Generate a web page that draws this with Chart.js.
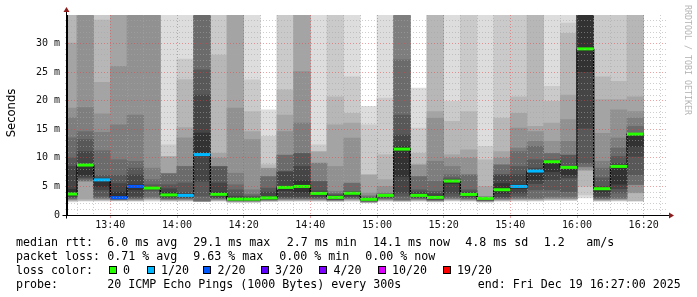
<!DOCTYPE html>
<html>
<head>
<meta charset="utf-8">
<script src="https://cdn.jsdelivr.net/npm/chart.js@4.4.1/dist/chart.umd.min.js"></script>
<style>
  html, body { margin: 0; padding: 0; background: #fff; }
  #wrap { position: relative; width: 697px; height: 297px; overflow: hidden; background: #fff; }
  #chart { position: absolute; left: 0; top: 0; }
  .t { position: absolute; font-family: 'DejaVu Sans Mono', monospace; font-size: 11.63px; line-height: 14px; color: #000; white-space: pre; }
  .box { position: absolute; width: 8px; height: 8px; box-sizing: border-box; border: 1px solid #000; }
  .rot { position: absolute; text-align: center; white-space: pre; }
</style>
</head>
<body>
<div id="wrap">
  <canvas id="chart" width="697" height="297"></canvas>
  <div class="rot" style="left:-29.5px;top:106px;width:80px;height:14px;line-height:14px;font-family:'DejaVu Sans',sans-serif;font-size:11.6px;color:#000;transform:rotate(-90deg);">Seconds</div>
  <div class="rot" style="left:628px;top:55px;width:120px;height:10px;line-height:10px;font-family:'DejaVu Sans Mono',monospace;font-size:8.3px;color:#b4b4b4;transform:rotate(90deg);">RRDTOOL / TOBI OETIKER</div>
  <div id="legend"></div>
</div>
<script>
/* SmokePing style latency chart, 3 h window */

// ---- data ----
// start of each 5 minute slot
const slots = ['13:25', '13:30', '13:35', '13:40', '13:45', '13:50', '13:55', '14:00', '14:05', '14:10',
  '14:15', '14:20', '14:25', '14:30', '14:35', '14:40', '14:45', '14:50', '14:55', '15:00',
  '15:05', '15:10', '15:15', '15:20', '15:25', '15:30', '15:35', '15:40', '15:45', '15:50',
  '15:55', '16:00', '16:05', '16:10', '16:15'];

// median rtt per slot (ms)
const median = [3.67, 8.74, 6.15, 3.03, 5.0, 4.72, 3.52, 3.43, 10.58, 3.62,
  2.78, 2.78, 3.0, 4.83, 5.0, 3.78, 3.08, 3.8, 2.74, 3.43,
  11.53, 3.43, 3.08, 5.94, 3.6, 2.9, 4.42, 5.0, 7.69, 9.32,
  8.33, 29.07, 4.6, 8.5, 14.16];

// lost pings (of 20) per slot
const lossCount = [0, 0, 1, 2, 2, 0, 0, 1, 1, 0,
  0, 0, 0, 0, 0, 0, 0, 0, 0, 0,
  0, 0, 0, 0, 0, 0, 0, 1, 1, 0,
  0, 0, 0, 0, 0];

// 20 sorted pings per slot (ms), values past the top are off scale
const pings = [
  [2.3, 2.4, 2.5, 2.6, 2.7, 2.8, 2.9, 3.0, 3.2, 3.4, 4.5, 8.5, 10.0, 13.5, 17.0, 18.7, 30.1, 38, 42, 45],
  [2.4, 2.5, 2.6, 2.8, 5.9, 5.95, 6.0, 6.4, 6.6, 7.0, 8.8, 11.1, 13.2, 14.6, 18.8, 40, 42, 44, 46, 48],
  [2.4, 2.5, 2.6, 2.7, 2.8, 2.9, 3.0, 3.3, 4.4, 5.0, 6.25, 6.5, 6.93, 11.25, 14.45, 17.7, 23.2, 34.1, 38, 42],
  [2.4, 2.5, 2.55, 2.6, 2.65, 2.7, 2.75, 2.8, 2.9, 3.1, 4.0, 5.5, 6.93, 9.67, 15.8, 26.0, 38, 40, 42, 44],
  [2.4, 2.45, 2.5, 2.6, 2.7, 2.8, 2.9, 3.0, 3.3, 4.4, 5.3, 7.0, 8.2, 9.4, 17.5, 40, 42, 44, 46, 48],
  [2.4, 2.55, 2.7, 2.8, 2.9, 3.0, 3.25, 4.2, 4.4, 4.6, 4.8, 5.0, 5.3, 6.2, 8.2, 40, 42, 44, 46, 48],
  [2.4, 2.45, 2.5, 2.6, 2.7, 2.75, 2.85, 2.95, 3.1, 3.3, 3.9, 4.6, 5.3, 7.2, 7.25, 7.3, 10.2, 10.25, 12.3, 40],
  [2.4, 2.45, 2.5, 2.6, 2.7, 2.8, 2.9, 3.0, 3.1, 3.3, 3.6, 3.85, 5.6, 8.5, 8.5, 13.5, 15.3, 23.7, 27.3, 40],
  [2.35, 2.36, 2.38, 2.4, 2.42, 2.45, 2.5, 3.3, 5.9, 10.4, 14.33, 21.0, 25.4, 38, 40, 42, 44, 46, 48, 50],
  [2.4, 2.45, 2.5, 2.6, 2.7, 2.8, 2.9, 3.0, 3.1, 3.4, 4.0, 5.6, 8.45, 8.5, 8.5, 9.96, 10.8, 28.0, 38, 40],
  [2.2, 2.25, 2.3, 2.35, 2.4, 2.45, 2.5, 2.55, 2.6, 2.75, 3.0, 3.3, 4.4, 5.3, 7.3, 18.7, 38, 40, 42, 44],
  [2.2, 2.25, 2.3, 2.35, 2.4, 2.45, 2.5, 2.55, 2.6, 2.7, 2.95, 3.1, 3.3, 3.6, 4.43, 13.2, 14.6, 18.1, 23.65, 40],
  [2.35, 2.4, 2.45, 2.5, 2.55, 2.6, 2.65, 2.7, 2.8, 2.9, 3.2, 4.0, 4.7, 6.7, 6.75, 8.15, 8.2, 8.8, 13.75, 18.4],
  [2.4, 2.45, 2.5, 2.6, 2.7, 2.8, 2.9, 3.0, 3.25, 4.3, 5.0, 7.55, 7.6, 10.45, 10.5, 14.6, 17.5, 21.9, 38, 40],
  [2.4, 2.45, 2.5, 2.6, 2.7, 2.8, 2.9, 3.0, 3.25, 4.0, 6.0, 8.5, 10.75, 10.8, 16.1, 25.1, 38, 40, 42, 44],
  [2.4, 2.45, 2.5, 2.6, 2.7, 2.8, 2.9, 3.0, 3.2, 3.5, 3.95, 4.2, 5.85, 5.9, 9.05, 9.1, 11.05, 11.1, 12.3, 40],
  [2.35, 2.4, 2.45, 2.5, 2.55, 2.6, 2.65, 2.7, 2.8, 2.95, 3.2, 3.4, 3.6, 3.8, 4.15, 8.5, 15.8, 20.7, 38, 40],
  [2.4, 2.45, 2.55, 2.65, 2.75, 2.85, 2.95, 3.1, 3.25, 3.5, 3.9, 4.0, 4.15, 5.55, 5.6, 13.45, 16.1, 17.8, 24.2, 40],
  [2.1, 2.15, 2.2, 2.25, 2.3, 2.35, 2.4, 2.45, 2.5, 2.6, 2.8, 2.9, 3.0, 3.2, 3.4, 3.85, 7.0, 7.05, 15.8, 19.0],
  [2.4, 2.45, 2.5, 2.6, 2.7, 2.8, 2.9, 3.0, 3.1, 3.3, 3.5, 3.55, 3.6, 3.7, 3.85, 5.0, 6.2, 10.55, 20.45, 40],
  [2.35, 2.4, 2.45, 2.5, 2.55, 2.6, 2.7, 3.3, 3.85, 6.76, 12.0, 14.0, 17.5, 27.15, 38, 40, 42, 44, 46, 48],
  [2.4, 2.45, 2.5, 2.6, 2.7, 2.8, 2.9, 3.0, 3.1, 3.3, 3.6, 4.0, 4.4, 6.7, 6.76, 8.75, 8.8, 10.8, 15.2, 22.2],
  [2.3, 2.35, 2.4, 2.45, 2.5, 2.55, 2.6, 2.7, 2.8, 2.95, 3.3, 3.7, 4.15, 5.9, 9.4, 16.95, 18.1, 38, 40, 42],
  [2.4, 2.5, 2.6, 2.7, 2.8, 2.9, 3.0, 3.3, 3.85, 5.5, 6.0, 6.2, 6.5, 7.05, 8.5, 9.96, 10.55, 16.4, 19.9, 40],
  [2.4, 2.45, 2.5, 2.6, 2.7, 2.8, 2.9, 3.0, 3.2, 3.4, 3.75, 4.0, 4.4, 7.0, 7.05, 9.96, 11.4, 18.1, 38, 40],
  [2.25, 2.3, 2.35, 2.4, 2.45, 2.5, 2.55, 2.6, 2.65, 2.75, 2.9, 2.95, 3.0, 3.05, 3.15, 3.27, 5.0, 9.67, 12.0, 40],
  [2.4, 2.45, 2.5, 2.6, 2.7, 2.8, 2.9, 3.0, 3.2, 3.8, 5.5, 7.0, 7.05, 8.75, 8.8, 9.96, 11.1, 16.95, 38, 40],
  [2.4, 2.5, 2.6, 2.7, 2.8, 2.9, 3.0, 3.3, 3.85, 4.6, 5.3, 7.05, 8.5, 11.1, 11.7, 15.2, 17.8, 20.7, 38, 40],
  [2.4, 2.5, 2.6, 2.7, 2.8, 2.9, 3.0, 4.4, 5.5, 6.2, 7.8, 8.2, 9.67, 12.0, 12.9, 14.6, 15.5, 38, 40, 42],
  [2.5, 2.6, 2.7, 2.8, 2.9, 3.0, 3.25, 4.4, 6.2, 7.6, 9.35, 9.5, 9.67, 10.75, 10.8, 12.9, 16.1, 19.9, 22.5, 40],
  [2.5, 2.6, 2.7, 2.8, 2.9, 3.0, 3.25, 4.1, 6.5, 7.0, 8.4, 8.5, 10.45, 10.5, 12.9, 16.7, 21.0, 31.8, 33.6, 40],
  [2.97, 3.5, 5.0, 7.85, 7.9, 8.4, 8.5, 9.1, 15.2, 25.1, 38, 40, 42, 44, 46, 48, 50, 52, 54, 56],
  [2.4, 2.45, 2.5, 2.6, 2.7, 2.8, 2.9, 3.0, 3.3, 4.0, 4.7, 5.0, 6.5, 8.2, 9.4, 14.3, 20.2, 24.2, 38, 40],
  [2.4, 2.5, 2.6, 2.7, 2.8, 2.9, 3.0, 3.85, 4.6, 5.4, 8.6, 9.0, 10.25, 11.7, 13.45, 18.4, 20.2, 23.4, 38, 40],
  [2.4, 2.45, 2.5, 3.85, 3.9, 5.3, 5.35, 7.05, 10.25, 12.0, 14.2, 14.25, 14.3, 15.5, 16.95, 18.1, 20.7, 38, 40, 42]
];

// x tick labels and the shown window
const timeLabels = ['13:40', '14:00', '14:20', '14:40', '15:00', '15:20', '15:40', '16:00', '16:20'];
const windowStart = '13:27';
const windowEnd = '16:27';
const yMax = 35;

// loss colour legend
const lossSteps = [0, 1, 2, 3, 4, 10, 19];
const lossColors = ['#26ff00', '#00b8ff', '#0059ff', '#5e00ff', '#7e00ff', '#dd00ff', '#ff0000'];

// ---- helpers ----
const SLOT = 5;
const toMin = s => { const [h, m] = s.split(':').map(Number); return h * 60 + m; };
const fmt = v => String(Math.floor(v / 60)).padStart(2, '0') + ':' + String(v % 60).padStart(2, '0');
const starts = slots.map(toMin);

function lossColor(n) {
  let c = lossColors[0];
  lossSteps.forEach((s, i) => { if (n >= s) c = lossColors[i]; });
  return c;
}

const MAJOR = 'rgba(225,70,70,0.5)';
const MINOR = 'rgba(165,165,165,0.55)';
const MONO = 'DejaVu Sans Mono';

// ---- smoke: 10 layers, outer pair lightest ----
const datasets = [];
const half = 10;
for (let i = 0; i < half; i++) {
  const g = Math.floor(190 / half * (half - (i + 1))) + 50;
  datasets.push({
    type: 'bar',
    data: pings.map((p, k) => ({ x: starts[k] + SLOT / 2, y: [p[i], p[19 - i]] })),
    backgroundColor: `rgb(${g},${g},${g})`,
    borderWidth: 0,
    grouped: false,
    barPercentage: 1,
    categoryPercentage: 1,
    order: 20 - i,
    clip: 0
  });
}

// ---- median: thin black steps + coloured bars by loss ----
const stepPts = [];
const medPts = [];
median.forEach((m, k) => {
  stepPts.push({ x: starts[k], y: m }, { x: starts[k] + SLOT, y: m });
  medPts.push({ x: starts[k], y: m }, { x: starts[k] + SLOT, y: m }, { x: starts[k] + SLOT, y: null });
});

datasets.push({
  type: 'line', data: stepPts, borderColor: '#000', borderWidth: 1,
  pointRadius: 0, tension: 0, order: 2, clip: 0
});
datasets.push({
  type: 'line', data: medPts, borderColor: lossColors[0], borderWidth: 3,
  pointRadius: 0, tension: 0, spanGaps: false, order: 1, clip: 0,
  segment: { borderColor: c => lossColor(lossCount[Math.floor(c.p0DataIndex / 3)]) }
});

// ---- grid positions ----
const xGrid = [];
for (let v = toMin(windowStart) + 3; v < toMin(windowEnd); v += SLOT) xGrid.push(v);
const yGrid = [];
for (let v = 0; v < yMax; v++) yGrid.push(v);

const isMajorX = v => timeLabels.includes(fmt(v));

// axis arrows like rrdtool
const axisArrows = {
  id: 'axisArrows',
  afterDraw(chart) {
    const { ctx, chartArea: a } = chart;
    const bx = Math.round(a.left) - 0.5;
    const by = Math.round(a.bottom) + 0.5;
    ctx.save();
    ctx.strokeStyle = '#000';
    ctx.lineWidth = 1;
    ctx.beginPath();
    ctx.moveTo(bx - 4, by); ctx.lineTo(a.right + 3, by);
    ctx.moveTo(bx, by + 3); ctx.lineTo(bx, a.top - 4);
    ctx.stroke();
    ctx.fillStyle = '#8e1b1b';
    ctx.beginPath();
    ctx.moveTo(a.right + 2, by - 3); ctx.lineTo(a.right + 7, by); ctx.lineTo(a.right + 2, by + 3);
    ctx.fill();
    ctx.beginPath();
    ctx.moveTo(bx - 3, a.top - 3); ctx.lineTo(bx, a.top - 8); ctx.lineTo(bx + 3, a.top - 3);
    ctx.fill();
    ctx.restore();
  }
};

new Chart(document.getElementById('chart'), {
  type: 'bar',
  data: { datasets },
  options: {
    responsive: false,
    animation: false,
    devicePixelRatio: 1,
    events: [],
    layout: { padding: { left: 0, top: 15, right: 30, bottom: 62 } },
    plugins: { legend: { display: false }, tooltip: { enabled: false } },
    scales: {
      x: {
        type: 'linear',
        min: toMin(windowStart),
        max: toMin(windowEnd),
        offset: false,
        afterBuildTicks: s => { s.ticks = xGrid.map(v => ({ value: v })); },
        afterFit: s => { s.height = 20; },
        ticks: {
          autoSkip: false, maxRotation: 0, padding: 1, color: '#111',
          font: { family: MONO, size: 10 },
          callback: v => isMajorX(v) ? fmt(v) : ''
        },
        grid: {
          offset: false, z: 1, lineWidth: 1,
          color: c => isMajorX(c.tick.value) ? MAJOR : MINOR,
          tickLength: 3,
          tickColor: c => isMajorX(c.tick.value) ? MAJOR : 'rgba(0,0,0,0)'
        },
        border: { color: '#000', width: 1, dash: [1, 2], z: 2 }
      },
      y: {
        min: 0,
        max: yMax,
        afterBuildTicks: s => { s.ticks = yGrid.map(v => ({ value: v })); },
        afterFit: s => { s.width = 67; },
        ticks: {
          autoSkip: false, padding: 5, color: '#111',
          font: { family: MONO, size: 10 },
          callback: v => v % 5 !== 0 ? '' : (v === 0 ? '0' : v + ' m')
        },
        grid: {
          z: 1, lineWidth: 1,
          color: c => c.tick.value % 5 === 0 ? MAJOR : MINOR,
          tickLength: 2,
          tickColor: c => c.tick.value % 5 === 0 ? MAJOR : MINOR
        },
        border: { color: '#000', width: 1, dash: [1, 2], z: 2 }
      }
    }
  },
  plugins: [axisArrows]
});

// ---- text legend under the graph ----
const legend = document.getElementById('legend');
function put(text, x, y) {
  const d = document.createElement('div');
  d.className = 't';
  d.style.left = x + 'px';
  d.style.top = y + 'px';
  d.textContent = text;
  legend.appendChild(d);
}
const rows = [234.5, 248.5, 262.5, 276.5];
put('median rtt:', 16, rows[0]);
put('6.0 ms avg', 107.3, rows[0]);
put('29.1 ms max', 193.3, rows[0]);
put('2.7 ms min', 286.7, rows[0]);
put('14.1 ms now', 373, rows[0]);
put('4.8 ms sd', 465.3, rows[0]);
put('1.2', 543.7, rows[0]);
put('am/s', 586.3, rows[0]);

put('packet loss:', 16, rows[1]);
put('0.71 % avg', 107.3, rows[1]);
put('9.63 % max', 193.3, rows[1]);
put('0.00 % min', 279.3, rows[1]);
put('0.00 % now', 365.3, rows[1]);

put('loss color:', 16, rows[2]);
const boxX = [108.7, 146.7, 203.3, 260.7, 319.3, 377.7, 442.7];
lossSteps.forEach((s, i) => {
  const b = document.createElement('div');
  b.className = 'box';
  b.style.left = boxX[i] + 'px';
  b.style.top = (rows[2] + 3) + 'px';
  b.style.background = lossColors[i];
  legend.appendChild(b);
  put(s === 0 ? '0' : s + '/20', boxX[i] + 14.3, rows[2]);
});

put('probe:', 16, rows[3]);
put('20 ICMP Echo Pings (1000 Bytes) every 300s', 107.3, rows[3]);
put('end: Fri Dec 19 16:27:00 2025', 477.7, rows[3]);
</script>
</body>
</html>
